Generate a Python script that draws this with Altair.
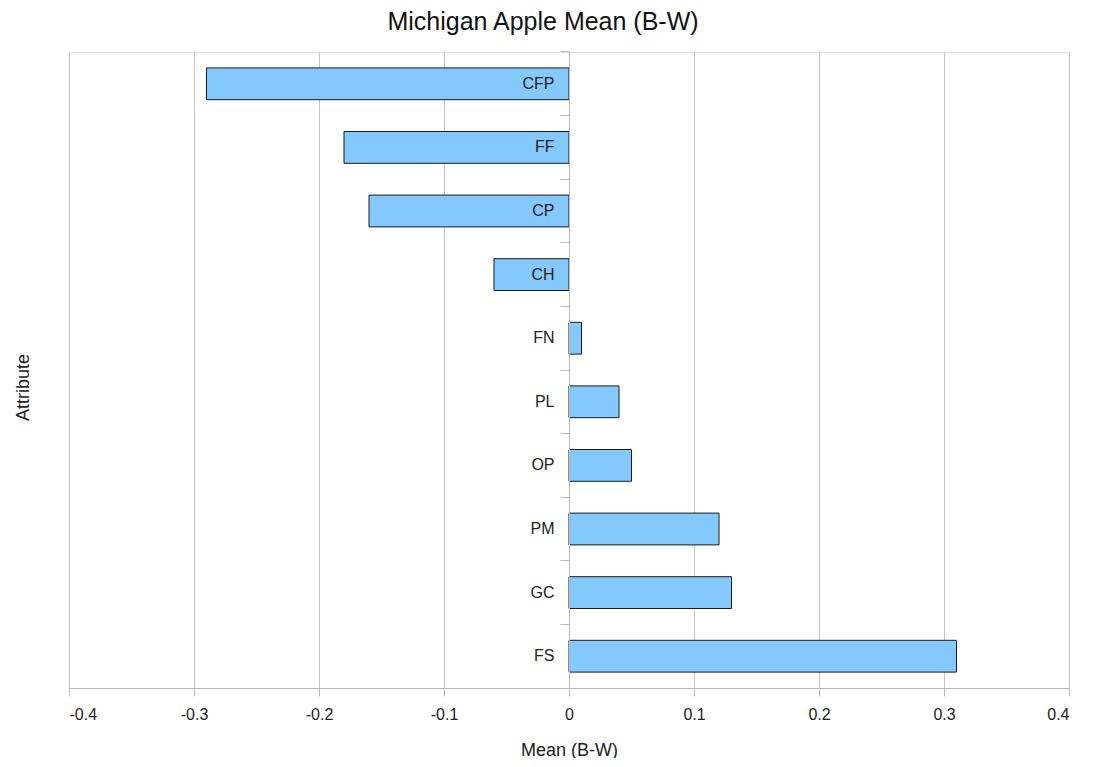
import altair as alt
import pandas as pd

attributes = ["CFP", "FF", "CP", "CH", "FN", "PL", "OP", "PM", "GC", "FS"]
means = [-0.29, -0.18, -0.16, -0.06, 0.01, 0.04, 0.05, 0.12, 0.13, 0.31]
x_ticks = [-0.4, -0.3, -0.2, -0.1, 0, 0.1, 0.2, 0.3, 0.4]

df = pd.DataFrame({"Attribute": attributes, "Mean": means})

FONT = "Liberation Sans"

x_label_expr = (
    "datum.value == 0 ? '0' : (datum.value < 0 ? '-' + format(-datum.value, '.1f') "
    ": format(datum.value, '.1f'))"
)

bars = alt.Chart(df).mark_bar(
    fill="#84C9FD", stroke="#1a1a1a", strokeWidth=1
).encode(
    x=alt.X(
        "Mean:Q",
        scale=alt.Scale(domain=[-0.4, 0.4], nice=False, zero=False),
        axis=alt.Axis(
            values=x_ticks,
            labelExpr=x_label_expr,
            title="Mean (B-W)",
            grid=True,
            gridColor="#c4c4c4",
            domainColor="#b8b8b8",
            tickColor="#b8b8b8",
            tickSize=8,
            labelPadding=10,
            labelFontSize=16,
            labelColor="#222222",
            labelFont=FONT,
            titleFont=FONT,
            titleFontSize=18,
            titleFontWeight="normal",
            titleColor="#222222",
            titlePadding=19,
        ),
    ),
    y=alt.Y(
        "Attribute:N",
        sort=attributes,
        scale=alt.Scale(paddingInner=0.5, paddingOuter=0.25),
        axis=alt.Axis(
            offset=-500,
            zindex=1,
            bandPosition=-0.5,
            grid=False,
            domainColor="#b8b8b8",
            tickColor="#b8b8b8",
            tickSize=9,
            labelPadding=6,
            labelFontSize=16,
            labelColor="#222222",
            labelFont=FONT,
            title="Attribute",
            titleFont=FONT,
            titleFontSize=18,
            titleFontWeight="normal",
            titleColor="#222222",
            titleX=-546,
            titleY=335,
            titleAngle=270,
            titleBaseline="middle",
            titleAlign="center",
        ),
    ),
)

chart = bars.properties(
    width=1000,
    height=636,
    title=alt.TitleParams(
        "Michigan Apple Mean (B-W)",
        font=FONT,
        fontSize=25,
        fontWeight="normal",
        color="#111111",
        anchor="middle",
        dx=-26,
        offset=16,
    ),
    autosize=alt.AutoSizeParams(type="none"),
    padding={"left": 61, "top": 44, "right": 22, "bottom": 70},
).configure_view(
    stroke="#c4c4c4", strokeWidth=1
).configure(background="white")

chart.save("out.html", embed_options={"renderer": "svg", "actions": False})
